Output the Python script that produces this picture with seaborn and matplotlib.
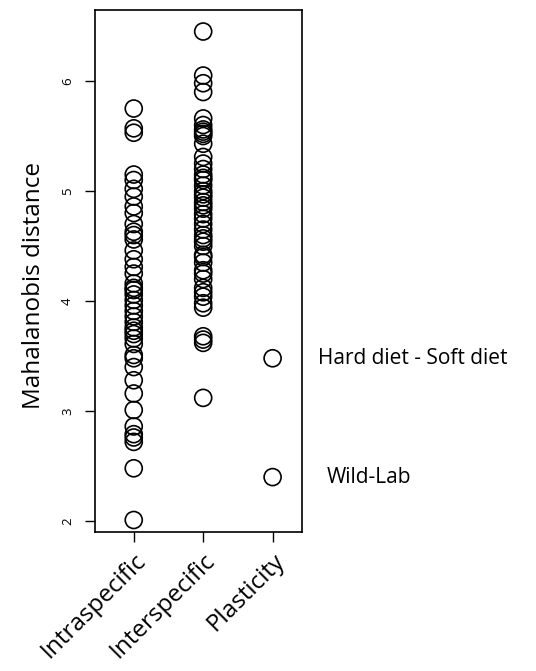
import pandas as pd
import matplotlib
matplotlib.use('Agg')
import matplotlib.pyplot as plt
import seaborn as sns

# Mahalanobis distances
intraspecific = [5.75, 5.57, 5.53, 5.15, 5.10, 5.02, 4.95, 4.86, 4.80, 4.70, 4.63, 4.60,
                 4.56, 4.46, 4.38, 4.31, 4.25, 4.16, 4.12, 4.10, 4.06, 4.01, 3.96, 3.91,
                 3.86, 3.81, 3.76, 3.73, 3.70, 3.66, 3.61, 3.51, 3.48, 3.40, 3.28, 3.16,
                 3.01, 2.86, 2.79, 2.76, 2.72, 2.48, 2.01]
interspecific = [6.45, 6.05, 5.98, 5.90, 5.66, 5.60, 5.56, 5.54, 5.52, 5.50, 5.43, 5.31,
                 5.25, 5.20, 5.15, 5.12, 5.10, 5.05, 5.00, 4.97, 4.94, 4.90, 4.87, 4.84,
                 4.79, 4.75, 4.70, 4.65, 4.60, 4.57, 4.54, 4.50, 4.42, 4.40, 4.35, 4.28,
                 4.25, 4.20, 4.12, 4.08, 4.04, 3.98, 3.94, 3.68, 3.65, 3.62, 3.12]
plasticity = [3.48, 2.40]
plasticity_labels = ['Hard diet - Soft diet', 'Wild-Lab']
groups = ['Intraspecific', 'Interspecific', 'Plasticity']

df = pd.DataFrame({
    'group': [groups[0]] * len(intraspecific) + [groups[1]] * len(interspecific)
             + [groups[2]] * len(plasticity),
    'dist': intraspecific + interspecific + plasticity,
})

sns.set_style('ticks')
plt.rcParams['font.family'] = ['Open Sans', 'DejaVu Sans']
plt.rcParams['text.color'] = 'black'
plt.rcParams['axes.labelcolor'] = 'black'
plt.rcParams['xtick.color'] = 'black'
plt.rcParams['ytick.color'] = 'black'

fig = plt.figure(figsize=(5.36, 6.71), dpi=100)
ax = fig.add_axes([0.177, 0.207, 0.386, 0.778])

sns.scatterplot(data=df, x='group', y='dist', marker='o', s=150,
                facecolor='none', edgecolor='black', linewidth=1.2, ax=ax)

ax.set_xlim(-0.56, 2.42)
ax.set_ylim(1.9, 6.645)
ax.set_yticks([2, 3, 4, 5, 6])
ax.set_yticklabels(['2', '3', '4', '5', '6'], rotation=90, va='center', fontsize=9.5)
ax.set_xticks(range(len(groups)))
ax.set_xticklabels(groups, rotation=45, ha='right', rotation_mode='anchor', fontsize=17.5)
ax.tick_params(axis='both', length=7, width=1, color='black')
ax.tick_params(axis='y', pad=8)
ax.tick_params(axis='x', pad=5)
for sp in ax.spines.values():
    sp.set_visible(True)
    sp.set_linewidth(1.2)
    sp.set_color('black')

ax.set_xlabel('')
ax.set_ylabel('Mahalanobis distance', fontsize=17.5)
ax.yaxis.set_label_coords(-0.235, 0.473)

# labels for the plasticity points, outside the box
for val, lab, off in zip(plasticity, plasticity_labels, [16, 25]):
    ax.annotate(lab, xy=(1.0, val), xycoords=('axes fraction', 'data'),
                xytext=(off, 0), textcoords='offset pixels',
                va='center', ha='left', fontsize=15, annotation_clip=False)

fig.savefig('out.png', dpi=100, facecolor='white')
